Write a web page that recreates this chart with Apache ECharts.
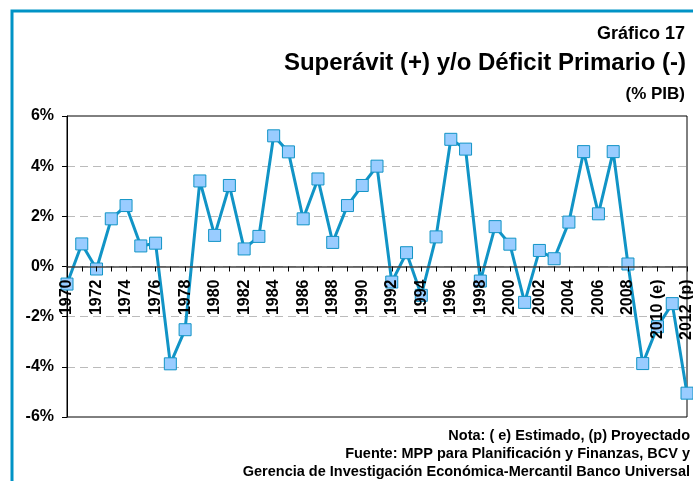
<!DOCTYPE html>
<html>
<head>
<meta charset="utf-8">
<script src="https://cdn.jsdelivr.net/npm/echarts@6/dist/echarts.min.js"></script>
<style>
  html, body { margin: 0; padding: 0; background: #fff; }
  #main { width: 693px; height: 481px; }
</style>
</head>
<body>
<div id="main"></div>
<script>
const years = ['1970', '1971', '1972', '1973', '1974', '1975', '1976', '1977', '1978', '1979',
  '1980', '1981', '1982', '1983', '1984', '1985', '1986', '1987', '1988', '1989',
  '1990', '1991', '1992', '1993', '1994', '1995', '1996', '1997', '1998', '1999',
  '2000', '2001', '2002', '2003', '2004', '2005', '2006', '2007', '2008', '2009',
  '2010 (e)', '2011', '2012 (p)'];
const balance = [-0.7, 0.9, -0.1, 1.9, 2.43, 0.82, 0.93, -3.88, -2.52, 3.41,
  1.24, 3.23, 0.7, 1.2, 5.21, 4.57, 1.9, 3.49, 0.96, 2.43,
  3.23, 4.0, -0.62, 0.55, -1.15, 1.18, 5.07, 4.68, -0.58, 1.59,
  0.89, -1.43, 0.64, 0.31, 1.77, 4.58, 2.1, 4.58, 0.1, -3.87,
  -2.4, -1.48, -5.05];
const yMin = -6, yMax = 6, yStep = 2;

const font = 'Arial, "Liberation Sans", sans-serif';
const gridTop = 116, gridBottom = 64;
const plotH = 481 - gridTop - gridBottom;
// put the category axis (line, ticks, labels) on the 0% line
const zeroOffset = (0 - yMin) / (yMax - yMin) * plotH;

const chart = echarts.init(document.getElementById('main'));

chart.setOption({
  animation: false,
  title: [
    { text: 'Gráfico 17', right: 3, top: 20,
      textStyle: { fontFamily: font, fontSize: 18, fontWeight: 'bold', color: '#000' } },
    { text: 'Superávit (+) y/o Déficit Primario (-)', right: 2, top: 46,
      textStyle: { fontFamily: font, fontSize: 24, fontWeight: 'bold', color: '#000' } },
    { text: '(% PIB)', right: 3, top: 81,
      textStyle: { fontFamily: font, fontSize: 17, fontWeight: 'bold', color: '#000' } }
  ],
  graphic: [
    { type: 'rect', shape: { x: 12, y: 11, width: 700, height: 500 },
      style: { fill: null, stroke: '#0093c6', lineWidth: 3 } },
    { type: 'text', right: 3, top: 428,
      style: { text: 'Nota: ( e) Estimado, (p) Proyectado', font: 'bold 14.5px ' + font, fill: '#000' } },
    { type: 'text', right: 3, top: 446,
      style: { text: 'Fuente: MPP para Planificación y Finanzas, BCV y', font: 'bold 14.5px ' + font, fill: '#000' } },
    { type: 'text', right: 3, top: 464,
      style: { text: 'Gerencia de Investigación Económica-Mercantil Banco Universal', font: 'bold 14.5px ' + font, fill: '#000' } }
  ],
  grid: {
    left: 67, right: 6, top: gridTop, bottom: gridBottom,
    outerBoundsMode: 'none',
    show: true, borderColor: '#000', borderWidth: 1, backgroundColor: 'transparent'
  },
  xAxis: {
    type: 'category',
    data: years,
    boundaryGap: false,
    position: 'bottom',
    offset: -zeroOffset,
    zlevel: 1,
    axisLine: { onZero: false, lineStyle: { color: '#444', width: 1.5 } },
    axisTick: { show: true, interval: 0, length: 5, lineStyle: { color: '#000' } },
    axisLabel: {
      interval: 1, rotate: 90, margin: 13,
      fontFamily: font, fontSize: 16, fontWeight: 'bold', color: '#000'
    },
    splitLine: { show: false }
  },
  yAxis: {
    type: 'value',
    min: yMin, max: yMax, interval: yStep,
    axisLine: { show: true, lineStyle: { color: '#000' } },
    axisTick: { show: true, length: 5, lineStyle: { color: '#000' } },
    axisLabel: {
      formatter: '{value}%', margin: 13,
      fontFamily: font, fontSize: 16, fontWeight: 'bold', color: '#000'
    },
    splitLine: {
      show: true, showMinLine: false, showMaxLine: false,
      lineStyle: { color: '#bbb', type: [8, 5], width: 1 }
    }
  },
  series: [{
    type: 'line',
    data: balance,
    symbol: 'rect',
    symbolSize: 12,
    showAllSymbol: true,
    lineStyle: { color: '#1194c6', width: 3 },
    itemStyle: { color: '#99ccff', borderColor: '#1194c6', borderWidth: 1 }
  }]
});
</script>
</body>
</html>
